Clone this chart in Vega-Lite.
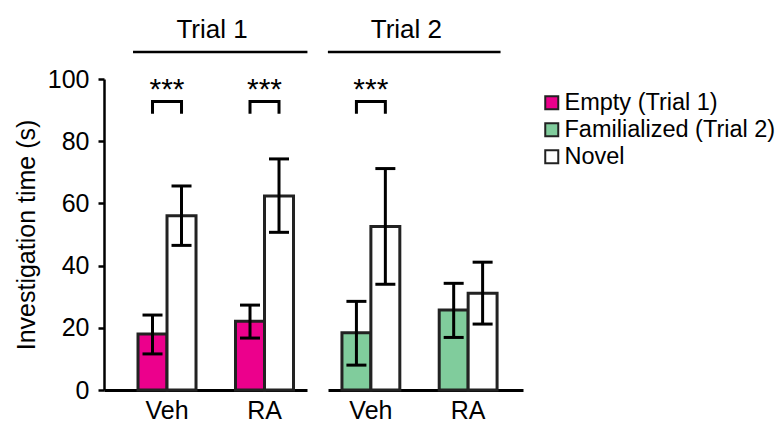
{
  "$schema": "https://vega.github.io/schema/vega-lite/v6.json",
  "padding": {"left": 14, "top": 16, "right": 0, "bottom": 0},
  "bounds": "flush",
  "config": {
    "font": "Liberation Sans",
    "view": {"stroke": null},
    "axis": {"grid": false, "domainColor": "#000", "tickColor": "#000", "labelColor": "#000", "titleColor": "#000", "labelFontSize": 25, "titleFontSize": 25, "titleFontWeight": "normal", "domainWidth": 2.5, "tickWidth": 2.5},
    "legend": {"orient": "right", "offset": 5, "padding": 12, "symbolType": "square", "symbolSize": 169, "symbolStrokeWidth": 2, "symbolStrokeColor": "#222", "labelFontSize": 23.5, "labelLimit": 0, "labelColor": "#000", "rowPadding": 2, "labelOffset": 1},
    "concat": {"spacing": 21}
  },
  "datasets": {
    "bars": [
      {"trial": "Trial 1", "group": "Veh", "type": "Empty (Trial 1)", "mean": 18.0, "lo": 11.6, "hi": 24.1},
      {"trial": "Trial 1", "group": "Veh", "type": "Novel", "mean": 56.0, "lo": 46.5, "hi": 65.6},
      {"trial": "Trial 1", "group": "RA", "type": "Empty (Trial 1)", "mean": 22.1, "lo": 16.7, "hi": 27.3},
      {"trial": "Trial 1", "group": "RA", "type": "Novel", "mean": 62.4, "lo": 50.7, "hi": 74.3},
      {"trial": "Trial 2", "group": "Veh", "type": "Familialized (Trial 2)", "mean": 18.4, "lo": 8.0, "hi": 28.5},
      {"trial": "Trial 2", "group": "Veh", "type": "Novel", "mean": 52.6, "lo": 34.0, "hi": 71.2},
      {"trial": "Trial 2", "group": "RA", "type": "Familialized (Trial 2)", "mean": 25.7, "lo": 16.9, "hi": 34.3},
      {"trial": "Trial 2", "group": "RA", "type": "Novel", "mean": 31.1, "lo": 21.2, "hi": 41.1}
    ],
    "sig": [
      {"trial": "Trial 1", "group": "Veh", "label": "***"},
      {"trial": "Trial 1", "group": "RA", "label": "***"},
      {"trial": "Trial 2", "group": "Veh", "label": "***"}
    ],
    "brackets": [
      {"trial": "Trial 1", "group": "Veh", "type": "Empty (Trial 1)", "v": 88.8, "ord": 1},
      {"trial": "Trial 1", "group": "Veh", "type": "Empty (Trial 1)", "v": 92.75, "ord": 2},
      {"trial": "Trial 1", "group": "Veh", "type": "Novel", "v": 92.75, "ord": 3},
      {"trial": "Trial 1", "group": "Veh", "type": "Novel", "v": 88.8, "ord": 4},
      {"trial": "Trial 1", "group": "RA", "type": "Empty (Trial 1)", "v": 88.8, "ord": 1},
      {"trial": "Trial 1", "group": "RA", "type": "Empty (Trial 1)", "v": 92.75, "ord": 2},
      {"trial": "Trial 1", "group": "RA", "type": "Novel", "v": 92.75, "ord": 3},
      {"trial": "Trial 1", "group": "RA", "type": "Novel", "v": 88.8, "ord": 4},
      {"trial": "Trial 2", "group": "Veh", "type": "Familialized (Trial 2)", "v": 88.8, "ord": 1},
      {"trial": "Trial 2", "group": "Veh", "type": "Familialized (Trial 2)", "v": 92.75, "ord": 2},
      {"trial": "Trial 2", "group": "Veh", "type": "Novel", "v": 92.75, "ord": 3},
      {"trial": "Trial 2", "group": "Veh", "type": "Novel", "v": 88.8, "ord": 4}
    ],
    "headers": [
      {"trial": "Trial 1", "from": "Veh", "to": "RA"},
      {"trial": "Trial 2", "from": "Veh", "to": "RA"}
    ]
  },
  "hconcat": [
    {
      "width": 203,
      "height": 311,
      "layer": [
        {
          "data": {"name": "bars"},
          "transform": [{"filter": "datum.trial === 'Trial 1'"}],
          "mark": {"type": "bar", "stroke": "#222", "strokeWidth": 3},
          "encoding": {
            "x": {"field": "group", "type": "nominal", "scale": {"domain": ["Veh", "RA"], "paddingInner": 0.405, "paddingOuter": 0.2436, "align": 0.716}, "axis": {"title": null, "labelAngle": 0, "ticks": false, "labelPadding": 8, "domainWidth": 3}},
            "xOffset": {"field": "type", "type": "nominal", "scale": {"paddingInner": 0, "paddingOuter": 0}},
            "y": {"field": "mean", "type": "quantitative", "scale": {"domain": [0, 100], "nice": false}, "axis": {"title": "Investigation time (s)", "values": [0, 20, 40, 60, 80, 100], "tickSize": 6, "labelPadding": 9, "titlePadding": 8}},
            "fill": {"field": "type", "type": "nominal", "scale": {"domain": ["Empty (Trial 1)", "Familialized (Trial 2)", "Novel"], "range": ["#EC008C", "#80CC9C", "#FFFFFF"]}, "legend": {"title": null}}
          }
        },
        {
          "data": {"name": "bars"},
          "transform": [{"filter": "datum.trial === 'Trial 1'"}],
          "mark": {"type": "rule", "color": "#000", "strokeWidth": 3},
          "encoding": {
            "x": {"field": "group", "type": "nominal"},
            "xOffset": {"field": "type", "type": "nominal"},
            "y": {"field": "lo", "type": "quantitative"},
            "y2": {"field": "hi"}
          }
        },
        {
          "data": {"name": "bars"},
          "transform": [{"filter": "datum.trial === 'Trial 1'"}],
          "mark": {"type": "tick", "color": "#000", "thickness": 3, "size": 20, "opacity": 1},
          "encoding": {
            "x": {"field": "group", "type": "nominal"},
            "xOffset": {"field": "type", "type": "nominal"},
            "y": {"field": "hi", "type": "quantitative"}
          }
        },
        {
          "data": {"name": "bars"},
          "transform": [{"filter": "datum.trial === 'Trial 1'"}],
          "mark": {"type": "tick", "color": "#000", "thickness": 3, "size": 20, "opacity": 1},
          "encoding": {
            "x": {"field": "group", "type": "nominal"},
            "xOffset": {"field": "type", "type": "nominal"},
            "y": {"field": "lo", "type": "quantitative"}
          }
        },
        {
          "data": {"name": "brackets"},
          "transform": [{"filter": "datum.trial === 'Trial 1'"}],
          "mark": {"type": "line", "color": "#000", "strokeWidth": 3, "strokeCap": "butt", "strokeJoin": "miter"},
          "encoding": {
            "x": {"field": "group", "type": "nominal"},
            "xOffset": {"field": "type", "type": "nominal"},
            "y": {"field": "v", "type": "quantitative"},
            "detail": {"field": "group"},
            "order": {"field": "ord"}
          }
        },
        {
          "data": {"name": "sig"},
          "transform": [{"filter": "datum.trial === 'Trial 1'"}],
          "mark": {"type": "text", "fontSize": 30, "baseline": "alphabetic", "color": "#000"},
          "encoding": {
            "x": {"field": "group", "type": "nominal"},
            "y": {"datum": 93.6},
            "text": {"field": "label"}
          }
        },
        {
          "data": {"name": "headers"},
          "transform": [{"filter": "datum.trial === 'Trial 1'"}],
          "mark": {"type": "rule", "color": "#000", "strokeWidth": 2.5},
          "encoding": {
            "x": {"field": "from", "type": "nominal", "bandPosition": -0.086},
            "x2": {"field": "to", "bandPosition": 1.24},
            "y": {"datum": 108.7}
          }
        },
        {
          "data": {"name": "headers"},
          "transform": [{"filter": "datum.trial === 'Trial 1'"}],
          "mark": {"type": "text", "fontSize": 26, "baseline": "alphabetic", "color": "#000"},
          "encoding": {
            "x": {"field": "from", "type": "nominal", "bandPosition": 1.276},
            "y": {"datum": 113.2},
            "text": {"field": "trial"}
          }
        }
      ]
    },
    {
      "width": 195,
      "height": 311,
      "layer": [
        {
          "data": {"name": "bars"},
          "transform": [{"filter": "datum.trial === 'Trial 2'"}],
          "mark": {"type": "bar", "stroke": "#222", "strokeWidth": 3},
          "encoding": {
            "x": {"field": "group", "type": "nominal", "scale": {"domain": ["Veh", "RA"], "paddingInner": 0.405, "paddingOuter": 0.205, "align": 0.35}, "axis": {"title": null, "labelAngle": 0, "ticks": false, "labelPadding": 8, "domainWidth": 3}},
            "xOffset": {"field": "type", "type": "nominal", "scale": {"paddingInner": 0, "paddingOuter": 0}},
            "y": {"field": "mean", "type": "quantitative", "scale": {"domain": [0, 100], "nice": false}, "axis": null},
            "fill": {"field": "type", "type": "nominal", "scale": {"domain": ["Empty (Trial 1)", "Familialized (Trial 2)", "Novel"], "range": ["#EC008C", "#80CC9C", "#FFFFFF"]}, "legend": {"title": null}}
          }
        },
        {
          "data": {"name": "bars"},
          "transform": [{"filter": "datum.trial === 'Trial 2'"}],
          "mark": {"type": "rule", "color": "#000", "strokeWidth": 3},
          "encoding": {
            "x": {"field": "group", "type": "nominal"},
            "xOffset": {"field": "type", "type": "nominal"},
            "y": {"field": "lo", "type": "quantitative"},
            "y2": {"field": "hi"}
          }
        },
        {
          "data": {"name": "bars"},
          "transform": [{"filter": "datum.trial === 'Trial 2'"}],
          "mark": {"type": "tick", "color": "#000", "thickness": 3, "size": 20, "opacity": 1},
          "encoding": {
            "x": {"field": "group", "type": "nominal"},
            "xOffset": {"field": "type", "type": "nominal"},
            "y": {"field": "hi", "type": "quantitative"}
          }
        },
        {
          "data": {"name": "bars"},
          "transform": [{"filter": "datum.trial === 'Trial 2'"}],
          "mark": {"type": "tick", "color": "#000", "thickness": 3, "size": 20, "opacity": 1},
          "encoding": {
            "x": {"field": "group", "type": "nominal"},
            "xOffset": {"field": "type", "type": "nominal"},
            "y": {"field": "lo", "type": "quantitative"}
          }
        },
        {
          "data": {"name": "brackets"},
          "transform": [{"filter": "datum.trial === 'Trial 2'"}],
          "mark": {"type": "line", "color": "#000", "strokeWidth": 3, "strokeCap": "butt", "strokeJoin": "miter"},
          "encoding": {
            "x": {"field": "group", "type": "nominal"},
            "xOffset": {"field": "type", "type": "nominal"},
            "y": {"field": "v", "type": "quantitative"},
            "detail": {"field": "group"},
            "order": {"field": "ord"}
          }
        },
        {
          "data": {"name": "sig"},
          "transform": [{"filter": "datum.trial === 'Trial 2'"}],
          "mark": {"type": "text", "fontSize": 30, "baseline": "alphabetic", "color": "#000"},
          "encoding": {
            "x": {"field": "group", "type": "nominal"},
            "y": {"datum": 93.6},
            "text": {"field": "label"}
          }
        },
        {
          "data": {"name": "headers"},
          "transform": [{"filter": "datum.trial === 'Trial 2'"}],
          "mark": {"type": "rule", "color": "#000", "strokeWidth": 2.5},
          "encoding": {
            "x": {"field": "from", "type": "nominal", "bandPosition": -0.243},
            "x2": {"field": "to", "bandPosition": 1.06},
            "y": {"datum": 108.7}
          }
        },
        {
          "data": {"name": "headers"},
          "transform": [{"filter": "datum.trial === 'Trial 2'"}],
          "mark": {"type": "text", "fontSize": 26, "baseline": "alphabetic", "color": "#000"},
          "encoding": {
            "x": {"field": "from", "type": "nominal", "bandPosition": 1.113},
            "y": {"datum": 113.2},
            "text": {"field": "trial"}
          }
        }
      ]
    }
  ],
  "resolve": {"scale": {"x": "independent", "xOffset": "independent", "y": "shared", "fill": "shared"}}
}
